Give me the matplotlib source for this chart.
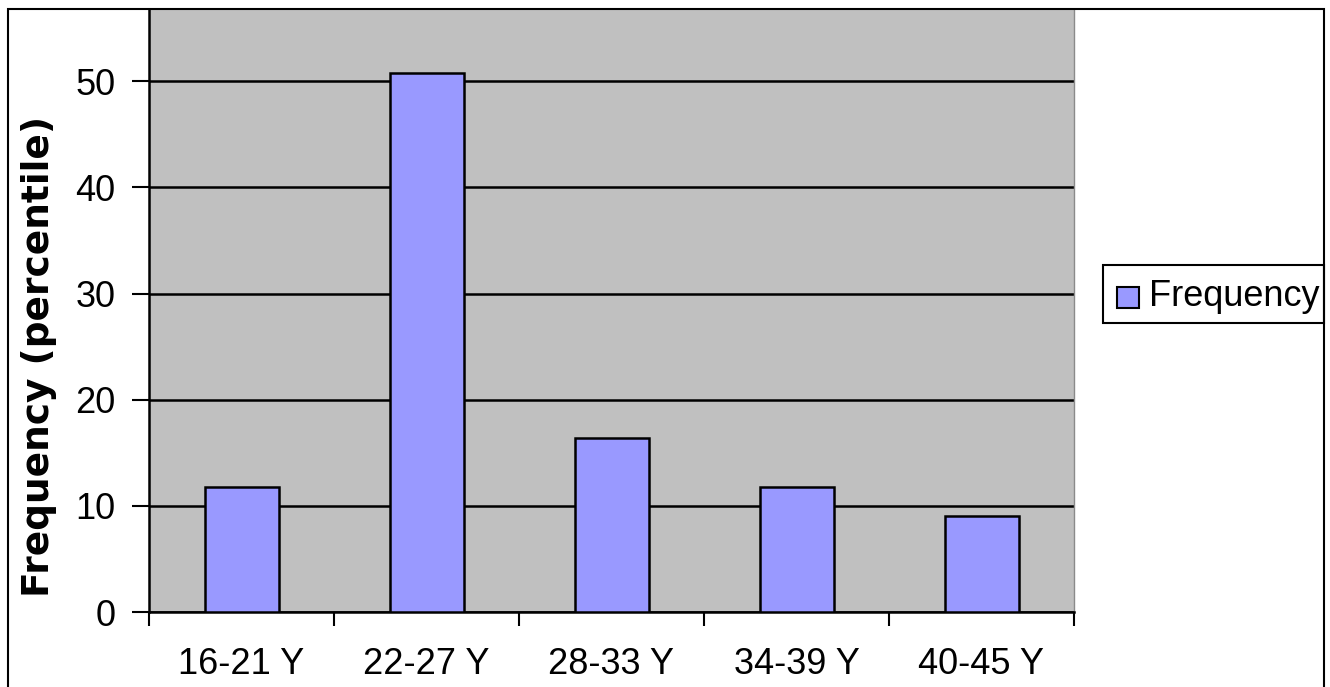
import matplotlib
matplotlib.use("Agg")
import matplotlib.pyplot as plt
from matplotlib.patches import Rectangle

categories = ["16-21 Y", "22-27 Y", "28-33 Y", "34-39 Y", "40-45 Y"]
values = [11.8, 50.8, 16.4, 11.8, 9.0]
yticks = [0, 10, 20, 30, 40, 50]
series_name = "Frequency"
ylabel = "Frequency (percentile)"

W, H = 1330, 687
fig = plt.figure(figsize=(W / 100, H / 100), dpi=100)
fig.patch.set_facecolor("white")

def fx(px):
    return px / W

def fy(py):
    return 1 - py / H

left, right, top, bottom = 149, 1074, 9, 612
ax = fig.add_axes([fx(left), fy(bottom), fx(right) - fx(left), fy(top) - fy(bottom)])
ax.set_facecolor("#C0C0C0")

x = list(range(len(categories)))
ax.bar(x, values, width=0.4, color="#9999FF", edgecolor="black", linewidth=1.8, zorder=3)

ax.set_xlim(-0.5, len(categories) - 0.5)
ax.set_ylim(0, 56.8)
ax.set_yticks(yticks)
ax.set_yticklabels([str(v) for v in yticks])
ax.yaxis.grid(True, color="black", linewidth=1.8, zorder=1)
ax.set_axisbelow(True)

ax.set_xticks(x)
ax.set_xticklabels(categories)
ax.set_xticks([i - 0.5 for i in range(len(categories) + 1)], minor=True)
ax.tick_params(axis="x", which="major", length=0, pad=25)
ax.tick_params(axis="x", which="minor", length=10, width=1.5, direction="out", color="black")
ax.tick_params(axis="y", length=12, width=1.5, direction="out", color="black", pad=12)
for lab in ax.get_xticklabels() + ax.get_yticklabels():
    lab.set_fontfamily("Liberation Sans")
    lab.set_fontsize(26)

ax.spines["top"].set_visible(False)
ax.spines["right"].set_color("#8a8a8a")
ax.spines["right"].set_linewidth(1.0)
ax.spines["left"].set_linewidth(1.8)
ax.spines["bottom"].set_linewidth(1.8)

fig.text(fx(39), fy(356), ylabel, rotation=90, ha="center", va="center",
         fontsize=27, fontweight="bold", family="DejaVu Sans")

# Legend box
lg_l, lg_t, lg_r, lg_b = 1103, 265, 1324, 323
fig.patches.append(Rectangle((fx(lg_l), fy(lg_b)), fx(lg_r) - fx(lg_l), fy(lg_t) - fy(lg_b),
                             transform=fig.transFigure, facecolor="white", edgecolor="black",
                             linewidth=1.5, zorder=5))
fig.patches.append(Rectangle((fx(1117), fy(308)), fx(1139) - fx(1117), fy(287) - fy(308),
                             transform=fig.transFigure, facecolor="#9999FF", edgecolor="black",
                             linewidth=1.5, zorder=6))
fig.text(fx(1149), fy(296), series_name, ha="left", va="center", fontsize=26,
         family="Liberation Sans", zorder=7)

# Figure border
fig.patches.append(Rectangle((fx(8), fy(H + 5)), fx(1324) - fx(8), fy(9) - fy(H + 5),
                             transform=fig.transFigure, facecolor="none", edgecolor="black",
                             linewidth=1.5, zorder=8))

fig.savefig("out.png", dpi=100)
